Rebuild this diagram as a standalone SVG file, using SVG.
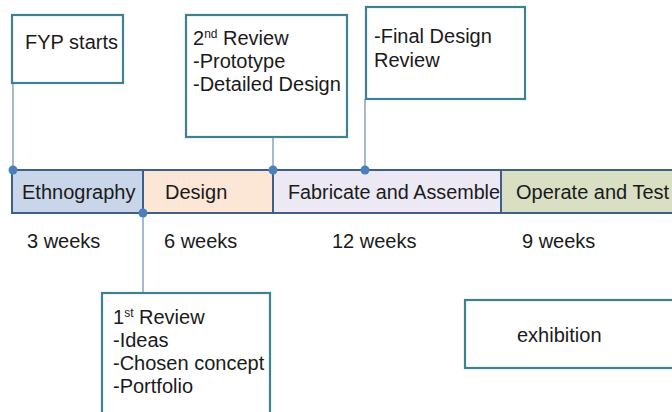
<svg xmlns="http://www.w3.org/2000/svg" width="672" height="412" viewBox="0 0 672 412">
<style>
text{font-family:"Liberation Sans",Arial,sans-serif;font-size:20px;fill:#1a1a1a}
.sup{font-size:12px}
.box{fill:#fff;stroke:#3f8193;stroke-width:2.2}
.seg{stroke:#3e5f89;stroke-width:2}
.link{stroke:#8aa3c6;stroke-width:1.5;fill:none}
.dot{fill:#4d7fba}
</style>
<rect width="672" height="412" fill="#fff"/>
<g id="connectors">
<line class="link" x1="13" y1="83" x2="13" y2="170"/>
<line class="link" x1="273" y1="137" x2="273" y2="170"/>
<line class="link" x1="365" y1="99" x2="365" y2="170"/>
<line class="link" x1="143" y1="213" x2="143" y2="293"/>
</g>
<g id="timeline">
<rect class="seg" x="12" y="170" width="131" height="43" fill="#c9d6ea"/>
<rect class="seg" x="143" y="170" width="130" height="43" fill="#fce6d6"/>
<rect class="seg" x="273" y="170" width="228" height="43" fill="#ece9f5"/>
<rect class="seg" x="501" y="170" width="180" height="43" fill="#d8dfc2"/>
<text x="22" y="199">Ethnography</text>
<text x="165" y="199">Design</text>
<text x="288" y="199" textLength="212" lengthAdjust="spacingAndGlyphs">Fabricate and Assemble</text>
<text x="516" y="199">Operate and Test</text>
</g>
<g id="dots">
<circle class="dot" cx="13" cy="170" r="4.5"/>
<circle class="dot" cx="143" cy="213" r="4.5"/>
<circle class="dot" cx="273" cy="170" r="4.5"/>
<circle class="dot" cx="365" cy="170" r="4.5"/>
</g>
<g id="durations">
<text x="27" y="248">3 weeks</text>
<text x="164" y="248">6 weeks</text>
<text x="332" y="248">12 weeks</text>
<text x="522" y="248">9 weeks</text>
</g>
<g id="fyp">
<rect class="box" x="12" y="15" width="111" height="68"/>
<text x="25" y="49">FYP starts</text>
</g>
<g id="review2">
<rect class="box" x="186" y="15" width="161" height="122"/>
<text x="193" y="45">2<tspan class="sup" dy="-7">nd</tspan><tspan dy="7"> Review</tspan></text>
<text x="193" y="68">-Prototype</text>
<text x="193" y="91">-Detailed Design</text>
</g>
<g id="final">
<rect class="box" x="366" y="7" width="159" height="92"/>
<text x="374" y="43">-Final Design</text>
<text x="374" y="67">Review</text>
</g>
<g id="review1">
<rect class="box" x="102" y="293" width="168" height="130"/>
<text x="113" y="324">1<tspan class="sup" dy="-7">st</tspan><tspan dy="7"> Review</tspan></text>
<text x="113" y="347">-Ideas</text>
<text x="113" y="370">-Chosen concept</text>
<text x="113" y="393">-Portfolio</text>
</g>
<g id="exhibition">
<rect class="box" x="465" y="300" width="220" height="68"/>
<text x="517" y="342">exhibition</text>
</g>
</svg>
